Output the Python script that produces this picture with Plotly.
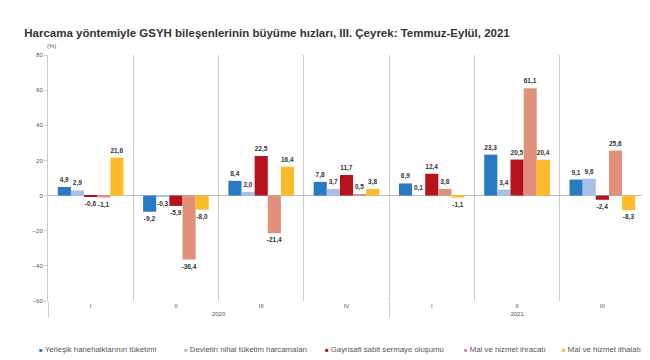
import plotly.graph_objects as go

years = ["2020", "2020", "2020", "2020", "2021", "2021", "2021"]
quarters = ["I", "II", "III", "IV", "I", "II", "III"]

series_names = [
    "Yerleşik hanehalklarının tüketimi",
    "Devletin nihai tüketim harcamaları",
    "Gayrisafi sabit sermaye oluşumu",
    "Mal ve hizmet ihracatı",
    "Mal ve hizmet ithalatı",
]
hanehalki = [4.9, -9.2, 8.4, 7.8, 6.9, 23.3, 9.1]
devlet = [2.9, -0.3, 2.0, 3.7, 0.1, 3.4, 9.6]
gsso = [-0.6, -5.9, 22.5, 11.7, 12.4, 20.5, -2.4]
ihracat = [-1.1, -36.4, -21.4, 0.5, 3.8, 61.1, 25.6]
ithalat = [21.6, -8.0, 16.4, 3.8, -1.1, 20.4, -8.3]
series_values = [hanehalki, devlet, gsso, ihracat, ithalat]
colors = ["#2a79c4", "#a9c0e6", "#b5121b", "#e0917b", "#fcbb2a"]
legend_x = [-0.019, 0.224, 0.461, 0.694, 0.858]

def fmt(v):
    return f"{v:.1f}".replace(".", ",")

fig = go.Figure()
for name, vals, col in zip(series_names, series_values, colors):
    fig.add_trace(go.Bar(
        x=[years, quarters], y=vals, name=name,
        marker=dict(color=col, line=dict(width=0)),
        text=[f"<b>{fmt(v)}</b>" for v in vals], textposition="outside",
        textfont=dict(family="Liberation Sans, Arial", size=6.5, color="#333333"),
        constraintext="none", cliponaxis=False,
    ))

annotations = [dict(text="(%)", xref="paper", yref="paper", x=-0.005, y=1.015,
                    xanchor="left", yanchor="bottom", showarrow=False,
                    font=dict(size=6, color="#555555"))]
for name, col, lx in zip(series_names, colors, legend_x):
    annotations.append(dict(
        text=f'<span style="color:{col};font-size:6px">■</span><span style="color:#555555"> {name}</span>',
        xref="paper", yref="paper", x=lx, y=-0.198, xanchor="left", yanchor="middle",
        showarrow=False, font=dict(size=7.8, color="#555555")))

fig.update_layout(
    width=650, height=360,
    margin=dict(l=40, r=13, t=47, b=67, autoexpand=False),
    paper_bgcolor="white", plot_bgcolor="white",
    barmode="group", bargap=0.23, bargroupgap=0,
    font=dict(family="Liberation Sans, Arial", size=7, color="#555555"),
    title=dict(text="<b>Harcama yöntemiyle GSYH bileşenlerinin büyüme hızları, III. Çeyrek: Temmuz-Eylül, 2021</b>",
               x=0.025, xanchor="left", xref="container", y=0.93, yanchor="middle", yref="container",
               pad=dict(l=0, r=0, t=0, b=0),
               font=dict(family="Liberation Sans, Arial", size=11.5, color="#333333")),
    showlegend=False,
    annotations=annotations,
)
fig.update_xaxes(
    type="multicategory", showgrid=True, gridcolor="#cccccc", gridwidth=1,
    tickson="boundaries", ticks="", showline=False,
    showdividers=True, dividercolor="#cccccc", dividerwidth=1,
    tickfont=dict(size=6, color="#555555"), zeroline=False,
)
fig.update_yaxes(
    range=[-60, 80], dtick=20, showgrid=False,
    zeroline=True, zerolinecolor="#bbbbbb", zerolinewidth=1,
    showline=True, linecolor="#cccccc", linewidth=1,
    ticks="outside", ticklen=3, tickcolor="#cccccc",
    tickfont=dict(size=6, color="#555555"),
)
fig.write_html("out.html")
